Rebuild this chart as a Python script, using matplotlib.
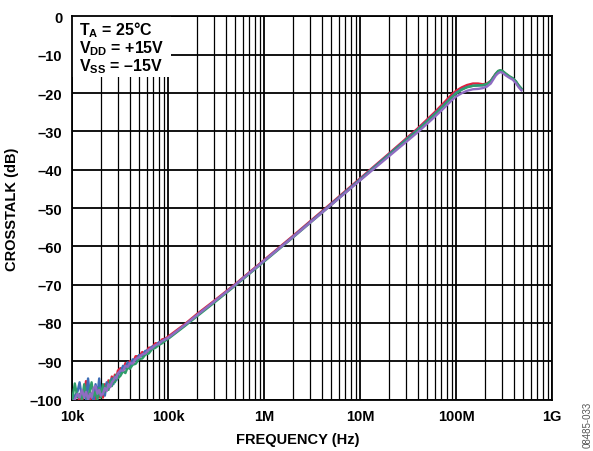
import matplotlib
matplotlib.use("Agg")
import matplotlib.pyplot as plt
from matplotlib.patches import Rectangle
from matplotlib.ticker import FixedLocator, NullFormatter

plt.rcParams['font.family'] = ['Liberation Sans', 'DejaVu Sans']
plt.rcParams['font.weight'] = 'bold'
plt.rcParams['mathtext.fontset'] = 'custom'
plt.rcParams['mathtext.rm'] = 'Liberation Sans:bold'
plt.rcParams['mathtext.bf'] = 'Liberation Sans:bold'
plt.rcParams['mathtext.it'] = 'Liberation Sans:bold'

# ---------------- data ----------------
freq_hz = [
    10e3, 10.7e3, 11.4e3, 12e3, 12.7e3, 13.4e3, 14e3, 14.7e3, 15.4e3, 16e3,
    16.8e3, 17.6e3, 18.4e3, 19.2e3, 20e3, 21e3, 22e3, 23e3, 24e3, 25e3,
    26e3, 27e3, 28e3, 29e3, 30e3,
    32e3, 34e3, 36e3, 38e3, 40e3, 43e3, 46e3, 50e3, 54e3, 58e3,
    63e3, 68e3, 74e3, 80e3, 87e3, 94e3,
    100e3, 150e3, 200e3, 300e3, 500e3, 1e6, 2e6, 5e6, 10e6, 20e6,
    40e6, 60e6, 75e6, 90e6, 100e6, 115e6, 130e6, 150e6, 170e6, 190e6,
    210e6, 230e6, 245e6, 260e6, 275e6, 290e6, 305e6, 330e6, 360e6, 390e6,
    420e6, 450e6, 480e6,
]

red_db = [
    -100.5, -100.0, -101.0, -99.5, -100.5, -98.5, -95.2, -99.5, -100.5, -99.0,
    -97.5, -100.0, -98.5, -99.5, -97.5, -99.5, -96.0, -97.5, -95.0, -96.5,
    -94.0, -95.5, -93.5, -94.5, -92.5,
    -91.8, -92.6, -90.5, -91.6, -90.0, -90.5, -88.7, -88.7, -87.6, -88.0,
    -86.5, -86.4, -85.3, -85.4, -84.3, -84.1,
    -83.6, -80.3, -77.7, -74.3, -69.9, -63.6, -57.3, -48.8, -42.3, -35.8,
    -29.2, -25.0, -22.5, -20.4, -19.4, -18.5, -17.9, -17.5, -17.5, -17.7,
    -17.5, -16.8, -15.8, -14.9, -14.3, -14.1, -14.3, -15.0, -15.7, -16.2,
    -17.0, -18.1, -18.9,
]

blue_db = [
    -101.0, -99.0, -98.0, -95.5, -99.5, -98.0, -100.0, -94.5, -99.0, -98.5,
    -100.5, -96.0, -99.0, -94.5, -98.5, -97.0, -99.0, -95.5, -97.0, -96.0,
    -94.5, -96.0, -94.0, -95.0, -93.5,
    -92.9, -91.2, -91.9, -90.3, -91.3, -89.5, -89.8, -88.4, -88.7, -87.3,
    -87.2, -86.2, -86.1, -85.1, -84.8, -84.2,
    -84.0, -80.6, -78.0, -74.6, -70.1, -63.8, -57.5, -49.0, -42.5, -36.0,
    -29.5, -25.4, -23.0, -21.0, -19.9, -19.0, -18.4, -18.1, -18.0, -18.0,
    -17.7, -16.9, -15.9, -15.0, -14.3, -14.2, -14.4, -15.1, -15.8, -16.2,
    -17.0, -18.1, -18.9,
]

green_db = [
    -100.5, -95.8, -99.5, -98.5, -100.0, -96.0, -99.0, -100.2, -97.5, -95.5,
    -99.0, -98.0, -100.0, -97.0, -99.5, -96.0, -98.0, -96.5, -97.5, -95.0,
    -96.5, -94.5, -95.5, -93.5, -94.5,
    -93.8, -92.6, -93.1, -91.6, -92.0, -90.9, -90.7, -89.4, -89.3, -88.3,
    -88.0, -86.9, -86.5, -85.8, -85.3, -84.6,
    -84.2, -80.8, -78.3, -74.8, -70.3, -64.0, -57.7, -49.2, -42.7, -36.2,
    -29.7, -25.6, -23.2, -21.2, -20.1, -19.1, -18.5, -18.1, -18.0, -17.9,
    -17.6, -16.9, -15.9, -14.9, -14.2, -14.0, -14.2, -14.9, -15.6, -16.1,
    -16.9, -18.0, -18.8,
]

purple_db = [
    -101.0, -100.0, -98.5, -99.5, -97.5, -99.5, -98.0, -100.0, -98.5, -99.5,
    -97.0, -96.5, -98.5, -97.5, -99.0, -98.5, -97.0, -97.8, -96.0, -96.8,
    -95.5, -95.0, -94.2, -94.5, -93.2,
    -92.4, -92.5, -91.2, -91.5, -90.5, -90.6, -89.4, -89.0, -88.2, -88.0,
    -87.0, -86.6, -85.8, -85.5, -84.7, -84.3,
    -83.9, -80.5, -78.0, -74.5, -70.1, -63.8, -57.6, -49.2, -42.8, -36.5,
    -30.2, -26.2, -23.9, -21.9, -20.9, -20.0, -19.4, -19.0, -18.9, -18.7,
    -18.3, -17.5, -16.4, -15.4, -14.8, -14.5, -14.7, -15.4, -16.0, -16.5,
    -17.4, -18.5, -19.3,
]

series_colors = ['#e0203c', '#3d6db5', '#2f9e6a', '#8f6cc2']
series_values = [red_db, blue_db, green_db, purple_db]

x_ticks = [1e4, 1e5, 1e6, 1e7, 1e8, 1e9]
x_tick_labels = ['10k', '100k', '1M', '10M', '100M', '1G']
y_ticks = [0, -10, -20, -30, -40, -50, -60, -70, -80, -90, -100]
y_tick_labels = ['0', '–10', '–20', '–30', '–40', '–50', '–60', '–70',
                 '–80', '–90', '–100']

# ---------------- figure ----------------
fig = plt.figure(figsize=(5.93, 4.52), dpi=100)
ax = fig.add_axes([0.1214, 0.1139, 0.8095, 0.8474])

for vals, col in zip(series_values, series_colors):
    ax.plot(freq_hz, vals, color=col, lw=1.7, zorder=3, solid_joinstyle='round')

ax.set_xscale('log')
ax.set_xlim(1e4, 1e9)
ax.set_ylim(-100, 0)

ax.xaxis.set_major_locator(FixedLocator(x_ticks))
ax.set_xticklabels(x_tick_labels)
minor = [m * 10 ** e for e in range(4, 9) for m in range(2, 10)]
ax.xaxis.set_minor_locator(FixedLocator(minor))
ax.xaxis.set_minor_formatter(NullFormatter())
ax.set_yticks(y_ticks)
ax.set_yticklabels(y_tick_labels)

ax.set_axisbelow(True)
ax.grid(True, which='major', color='black', lw=1.3)
ax.grid(True, which='minor', axis='x', color='black', lw=0.9)
ax.tick_params(which='both', length=0, labelsize=10.5, pad=7)
for lab in ax.get_xticklabels() + ax.get_yticklabels():
    lab.set_fontweight('bold')
for sp in ax.spines.values():
    sp.set_linewidth(1.3)
    sp.set_color('black')

ax.set_xlabel('FREQUENCY (Hz)', fontsize=10.5, fontweight='bold')
ax.xaxis.set_label_coords(0.47, -0.103)
ax.xaxis.label.set_va('center')
ax.set_ylabel('CROSSTALK (dB)', fontsize=10.5, fontweight='bold')
ax.yaxis.set_label_coords(-0.125, 0.5)
ax.yaxis.label.set_va('center')

# condition box
ax.add_patch(Rectangle((1e4, -15.8), 1.07e5 - 1e4, 15.8, facecolor='white',
                       edgecolor='none', zorder=2.5))
tx = 0.015
for ypos, label in [(0.9543, r'T$_\mathrm{A}$ = 25°C'),
                    (0.9073, r'V$_\mathrm{DD}$ = +15V'),
                    (0.8603, r'V$_\mathrm{SS}$ = –15V')]:
    ax.text(tx, ypos, label, transform=ax.transAxes, fontsize=11.5,
            fontweight='bold', va='baseline', ha='left', zorder=4)

fig.text(588 / 593, 1 - 402 / 452, '08485-033', rotation=90, fontsize=7,
         fontweight='normal', color='#555555', ha='center', va='top')

fig.savefig('out.png', dpi=100)
